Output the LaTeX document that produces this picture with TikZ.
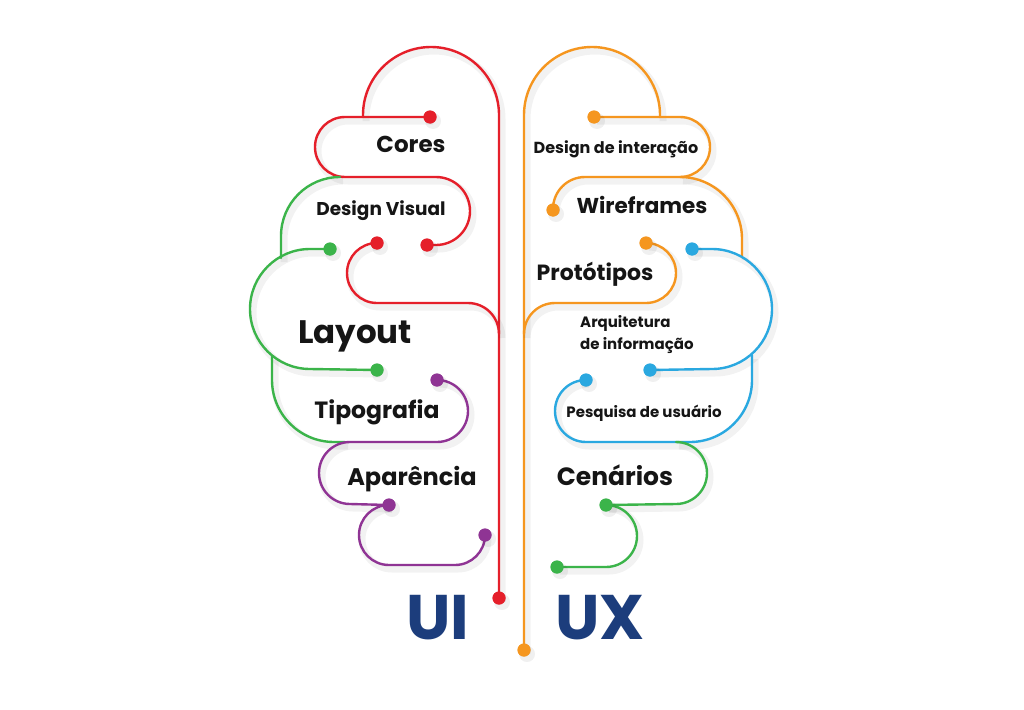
\documentclass[tikz,border=0pt]{standalone}
\usepackage{fontspec}
\setmainfont{Poppins}
\definecolor{cred}{HTML}{E51F2A}
\definecolor{corange}{HTML}{F5961F}
\definecolor{cgreen}{HTML}{3BB44A}
\definecolor{cpurple}{HTML}{8F3494}
\definecolor{cblue}{HTML}{2AA8E0}
\definecolor{ctext}{HTML}{151515}
\definecolor{cnavy}{HTML}{1C3D7C}
\begin{document}
\begin{tikzpicture}[x=1pt,y=-1pt,
  wire/.style={line width=2.4pt,line cap=round,line join=round,
    preaction={draw=black,draw opacity=0.05,line width=7pt,transform canvas={shift={(3pt,-4pt)}}}},
  dotr/.style={circle,inner sep=0pt,minimum size=13pt,fill=#1},
  lbl/.style={font=\bfseries,text=ctext,inner sep=0pt,anchor=base},
  big/.style={font=\fontsize{63}{63}\selectfont\bfseries,text=cnavy,inner sep=0pt,anchor=base}]
\useasboundingbox (0,0) rectangle (1024,709);
\fill[white] (0,0) rectangle (1024,709);

% ---------- dots (named) ----------
\node[dotr=cred] (r0) at (499,598) {};
\node[dotr=cred] (r1) at (430,117) {};
\node[dotr=cred] (r2) at (427,245) {};
\node[dotr=cred] (r3) at (377,243) {};
\node[dotr=cgreen] (g1) at (330,249) {};
\node[dotr=cgreen] (g2) at (377,370) {};
\node[dotr=cpurple] (p1) at (437,380) {};
\node[dotr=cpurple] (p2) at (389,505) {};
\node[dotr=cpurple] (p3) at (485,535) {};
\node[dotr=corange] (o0) at (524,650) {};
\node[dotr=corange] (o1) at (594,117) {};
\node[dotr=corange] (o2) at (553,210) {};
\node[dotr=corange] (o3) at (646,243) {};
\node[dotr=cblue] (b1) at (692,249) {};
\node[dotr=cblue] (b2) at (650,370) {};
\node[dotr=cblue] (b3) at (586,380) {};
\node[dotr=cgreen] (x1) at (606,505) {};
\node[dotr=cgreen] (x2) at (557,567) {};

% ---------- UI (left) ----------
\draw[wire,cred] (r0.center) -- (499,115) arc[start angle=0,end angle=-180,radius=68] -- (363,117);
\draw[wire,cred] (r1.center) -- (345,117) arc[start angle=-90,end angle=-270,radius=30] -- (436,177)
  arc[start angle=-90,end angle=90,radius=34] -- (r2.center);
\draw[wire,cred] (r3.center) arc[start angle=-90,end angle=-270,radius=30] -- (468,303)
  arc[start angle=-90,end angle=0,radius=31] -- (499,334);
\draw[wire,cgreen] (340,177) arc[start angle=-90,end angle=-180,radius=59] -- (281,258);
\draw[wire,cgreen] (g1.center) -- (310,249) arc[start angle=-90,end angle=-270,radius=60] -- (g2.center);
\draw[wire,cgreen] (272,356) -- (272,380) arc[start angle=180,end angle=90,radius=62] -- (345,442);
\draw[wire,cpurple] (p1.center) arc[start angle=-90,end angle=90,radius=31] -- (350,442)
  arc[start angle=-90,end angle=-270,radius=31] -- (p2.center);
\draw[wire,cpurple] (p2.center) arc[start angle=-90,end angle=-270,radius=30] -- (455,565)
  arc[start angle=90,end angle=0,radius=30] -- (p3.center);

% ---------- UX (right) ----------
\draw[wire,corange] (o0.center) -- (524,115) arc[start angle=180,end angle=360,radius=68] -- (660,117);
\draw[wire,corange] (o1.center) -- (680,117) arc[start angle=-90,end angle=90,radius=30] -- (585,177)
  arc[start angle=-90,end angle=-180,radius=32] -- (o2.center);
\draw[wire,corange] (680,177) arc[start angle=-90,end angle=0,radius=62] -- (742,256);
\draw[wire,corange] (o3.center) arc[start angle=-90,end angle=90,radius=30] -- (555,303)
  arc[start angle=-90,end angle=-180,radius=31] -- (524,334);
\draw[wire,cblue] (b1.center) -- (712,249) arc[start angle=-90,end angle=90,radius=60] -- (b2.center);
\draw[wire,cblue] (b3.center) arc[start angle=-90,end angle=-270,radius=31] -- (690,442)
  arc[start angle=90,end angle=0,radius=62] -- (752,355);
\draw[wire,cgreen] (676,442) arc[start angle=-90,end angle=90,radius=31] -- (x1.center);
\draw[wire,cgreen] (x1.center) arc[start angle=-90,end angle=90,radius=31] -- (x2.center);

% dots on top of the wires
\foreach \n/\c in {r0/cred,r1/cred,r2/cred,r3/cred,g1/cgreen,g2/cgreen,p1/cpurple,p2/cpurple,p3/cpurple,
  o0/corange,o1/corange,o2/corange,o3/corange,b1/cblue,b2/cblue,b3/cblue,x1/cgreen,x2/cgreen}{
  \fill[black,opacity=0.06] ([shift={(3,4)}]\n.center) circle[radius=8pt];
  \fill[\c] (\n.center) circle[radius=6.5pt];}

% ---------- labels ----------
\node[lbl,font=\fontsize{23}{23}\selectfont\bfseries] (tcores) at (411,152) {Cores};
\node[lbl,font=\fontsize{18.5}{18.5}\selectfont\bfseries] (tdv) at (381,215) {Design Visual};
\node[lbl,font=\fontsize{32.5}{32.5}\selectfont\bfseries] (tlay) at (355,343) {Layout};
\node[lbl,font=\fontsize{23.5}{23.5}\selectfont\bfseries] (ttip) at (377,418) {Tipografia};
\node[lbl,font=\fontsize{24}{24}\selectfont\bfseries] (tapa) at (412,485) {Aparência};
\node[lbl,font=\fontsize{16}{16}\selectfont\bfseries] (tdi) at (616,153) {Design de interação};
\node[lbl,font=\fontsize{21.5}{21.5}\selectfont\bfseries] (twire) at (642,213) {Wireframes};
\node[lbl,font=\fontsize{22}{22}\selectfont\bfseries] (tproto) at (595,280) {Protótipos};
\node[lbl,anchor=base west,font=\fontsize{15}{15}\selectfont\bfseries] (tarq1) at (580,327) {Arquitetura};
\node[lbl,anchor=base west,font=\fontsize{15}{15}\selectfont\bfseries] (tarq2) at (580,349) {de informação};
\node[lbl,font=\fontsize{15}{15}\selectfont\bfseries] (tpes) at (644,417) {Pesquisa de usuário};
\node[lbl,font=\fontsize{25}{25}\selectfont\bfseries] (tcen) at (615,485) {Cenários};
\node[big] (tui) at (438,639) {UI};
\node[big] (tux) at (600,639) {UX};
\end{tikzpicture}
\end{document}
